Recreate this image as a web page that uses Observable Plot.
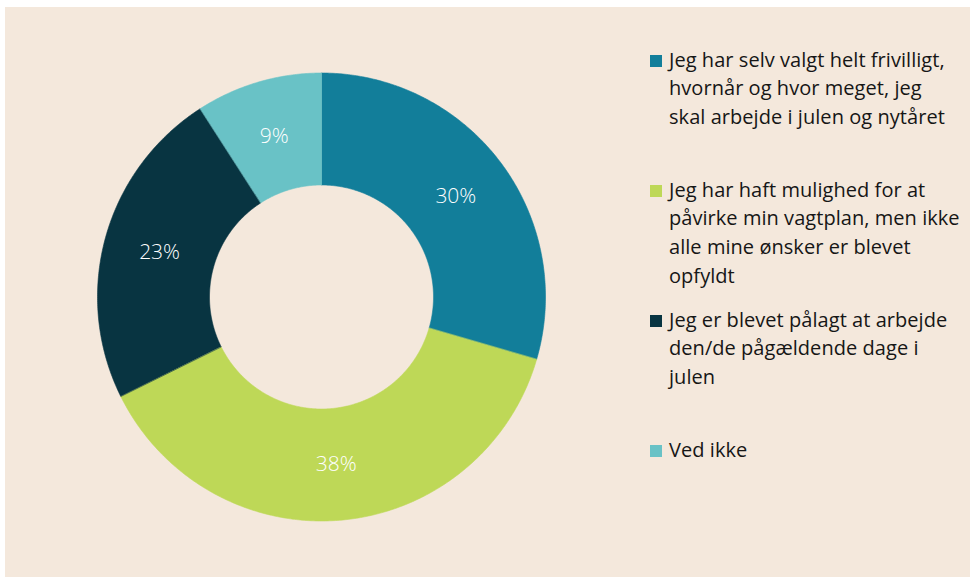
<!DOCTYPE html>
<html><head><meta charset="utf-8">
<script src="https://cdn.jsdelivr.net/npm/d3@7"></script>
<script src="https://cdn.jsdelivr.net/npm/@observablehq/plot@0.6"></script>
<style>
body{margin:0;background:#fff;}
#wrap{position:relative;width:976px;height:577px;overflow:hidden;}
#panel{position:absolute;left:5px;top:7px;width:965px;height:570px;background:#f4e8dc;}
#chart{position:absolute;left:0;top:0;}
#legend{position:absolute;left:650px;top:0;font-family:"Open Sans","Noto Sans",sans-serif;}
.item{position:absolute;left:0;}
.sw{position:absolute;left:0;top:9px;width:12px;height:12px;}
.txt{position:absolute;left:19px;top:0;line-height:28.8px;font-size:20px;letter-spacing:0.05px;color:#161616;white-space:nowrap;}
</style></head>
<body>
<div id="wrap"><div id="panel"></div><div id="chart"></div><div id="legend"></div></div>
<script>
const categories = [
  "Jeg har selv valgt helt frivilligt, hvornår og hvor meget, jeg skal arbejde i julen og nytåret",
  "Jeg har haft mulighed for at påvirke min vagtplan, men ikke alle mine ønsker er blevet opfyldt",
  "Jeg er blevet pålagt at arbejde den/de pågældende dage i julen",
  "Ved ikke"
];
const values = [29.5, 38.2, 23.2, 9.1];
const valueLabels = ["30%", "38%", "23%", "9%"];
const colors = ["#127e9a", "#bed857", "#083441", "#69c2c6"];
const legendLines = [
  ["Jeg har selv valgt helt frivilligt,", "hvornår og hvor meget, jeg", "skal arbejde i julen og nytåret"],
  ["Jeg har haft mulighed for at", "påvirke min vagtplan, men ikke", "alle mine ønsker er blevet", "opfyldt"],
  ["Jeg er blevet pålagt at arbejde", "den/de pågældende dage i", "julen"],
  ["Ved ikke"]
];
const legendTops = [45.5, 175.5, 305.5, 435.5];

const innerR = 0.5;
const rows = categories.map((key, i) => ({key, value: values[i], label: valueLabels[i]}));
const arcs = d3.pie().sort(null).value(d => d.value)(rows);
const poly = [];
const labels = [];
for (const a of arcs) {
  const n = Math.max(8, Math.ceil((a.endAngle - a.startAngle) / (Math.PI / 360)));
  for (let k = 0; k <= n; k++) {
    const t = a.startAngle + (a.endAngle - a.startAngle) * k / n;
    poly.push({key: a.data.key, x: Math.sin(t), y: Math.cos(t)});
  }
  for (let k = n; k >= 0; k--) {
    const t = a.startAngle + (a.endAngle - a.startAngle) * k / n;
    poly.push({key: a.data.key, x: innerR * Math.sin(t), y: innerR * Math.cos(t)});
  }
  const m = (a.startAngle + a.endAngle) / 2, r = (1 + innerR) / 2;
  labels.push({x: r * Math.sin(m), y: r * Math.cos(m), text: a.data.label});
}

const chart = Plot.plot({
  width: 976, height: 577,
  marginLeft: 97, marginRight: 431, marginTop: 72.5, marginBottom: 56.5,
  x: {domain: [-1, 1], axis: null},
  y: {domain: [-1, 1], axis: null},
  color: {domain: categories, range: colors},
  style: {background: "transparent", fontFamily: "'Open Sans', 'Noto Sans', sans-serif"},
  marks: [
    Plot.line(poly, {x: "x", y: "y", z: "key", fill: "key", stroke: "key", strokeWidth: 0.6, curve: "linear-closed"}),
    Plot.text(labels, {x: "x", y: "y", text: "text", fill: "white", fontSize: 21, fontWeight: 300})
  ]
});
document.getElementById("chart").appendChild(chart);

const leg = d3.select("#legend");
categories.forEach((c, i) => {
  const it = leg.append("div").attr("class", "item").style("top", legendTops[i] + "px");
  it.append("div").attr("class", "sw").style("background", colors[i]);
  it.append("div").attr("class", "txt").html(legendLines[i].join("<br>"));
});
</script>
</body></html>
